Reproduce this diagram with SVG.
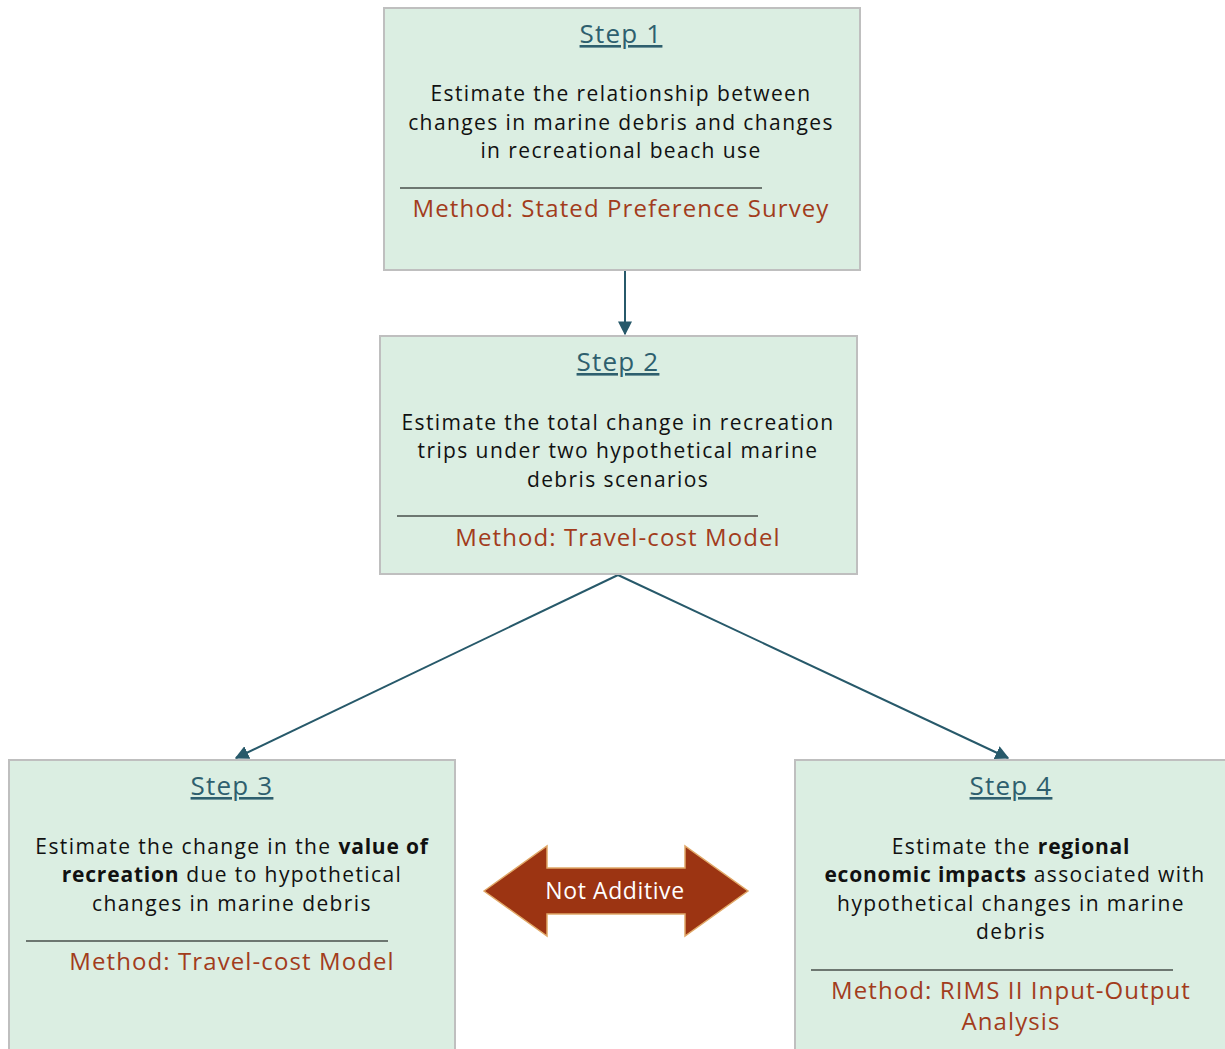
<svg xmlns="http://www.w3.org/2000/svg" width="1225" height="1049" viewBox="0 0 1225 1049">
<style>
.box{fill:#dbeee2;stroke:#bfbfbf;stroke-width:2}
.title{font-family:"Open Sans","DejaVu Sans",sans-serif;font-size:26px;letter-spacing:1.2px;fill:#2e5f6e;text-anchor:middle;text-decoration:underline}
.body{font-family:"Open Sans","DejaVu Sans",sans-serif;font-size:21px;letter-spacing:1.4px;fill:#111111;text-anchor:middle}
.meth{font-family:"Open Sans","DejaVu Sans",sans-serif;font-size:24px;letter-spacing:1.1px;fill:#a23c1c;text-anchor:middle}
.sep{stroke:#000000;stroke-width:1.2}
.conn{stroke:#27596a;stroke-width:2;fill:none}
.b{font-weight:bold;letter-spacing:0.8px}
</style>
<defs>
<marker id="ah2" viewBox="0 0 10 10" refX="9" refY="5" markerWidth="7" markerHeight="7" orient="auto">
<path d="M0,0 L10,5 L0,10 z" fill="#27596a"/>
</marker>
</defs>
<rect width="1225" height="1049" fill="#ffffff"/>
<g id="connectors">
<line class="conn" x1="625" y1="271" x2="625" y2="334" marker-end="url(#ah2)"/>
<line class="conn" x1="618" y1="575" x2="236" y2="758" marker-end="url(#ah2)"/>
<line class="conn" x1="618" y1="575" x2="1008" y2="758" marker-end="url(#ah2)"/>
</g>
<g id="step1">
<rect class="box" x="384" y="8" width="476" height="262"/>
<text class="title" x="621" y="43">Step 1</text>
<text class="body" x="621" y="101">Estimate the relationship between</text>
<text class="body" x="621" y="130">changes in marine debris and changes</text>
<text class="body" x="621" y="158">in recreational beach use</text>
<line class="sep" x1="400" y1="188" x2="762" y2="188"/>
<text class="meth" x="621" y="217">Method: Stated Preference Survey</text>
</g>
<g id="step2">
<rect class="box" x="380" y="336" width="477" height="238"/>
<text class="title" x="618" y="371">Step 2</text>
<text class="body" x="618" y="430">Estimate the total change in recreation</text>
<text class="body" x="618" y="458">trips under two hypothetical marine</text>
<text class="body" x="618" y="487">debris scenarios</text>
<line class="sep" x1="397" y1="516" x2="758" y2="516"/>
<text class="meth" x="618" y="546">Method: Travel-cost Model</text>
</g>
<g id="step3">
<rect class="box" x="9" y="760" width="446" height="300"/>
<text class="title" x="232" y="795">Step 3</text>
<text class="body" x="232" y="854">Estimate the change in the <tspan class="b">value of</tspan></text>
<text class="body" x="232" y="882"><tspan class="b">recreation</tspan> due to hypothetical</text>
<text class="body" x="232" y="911">changes in marine debris</text>
<line class="sep" x1="26" y1="941" x2="388" y2="941"/>
<text class="meth" x="232" y="970">Method: Travel-cost Model</text>
</g>
<g id="step4">
<rect class="box" x="795" y="760" width="440" height="300"/>
<text class="title" x="1011" y="795">Step 4</text>
<text class="body" x="1011" y="854">Estimate the <tspan class="b">regional</tspan></text>
<text class="body" x="1015" y="882"><tspan class="b">economic impacts</tspan> associated with</text>
<text class="body" x="1011" y="911">hypothetical changes in marine</text>
<text class="body" x="1011" y="939">debris</text>
<line class="sep" x1="811" y1="970" x2="1173" y2="970"/>
<text class="meth" x="1011" y="999">Method: RIMS II Input-Output</text>
<text class="meth" x="1011" y="1030">Analysis</text>
</g>
<g id="not-additive">
<path d="M484,891 L547,846 L547,868 L685,868 L685,846 L748,891 L685,936 L685,914 L547,914 L547,936 Z" fill="#9c3412" stroke="#e0a868" stroke-width="1.5"/>
<text x="615" y="899" font-family="Open Sans,DejaVu Sans,sans-serif" font-size="23" letter-spacing="0.6" fill="#ffffff" text-anchor="middle">Not Additive</text>
</g>
</svg>
